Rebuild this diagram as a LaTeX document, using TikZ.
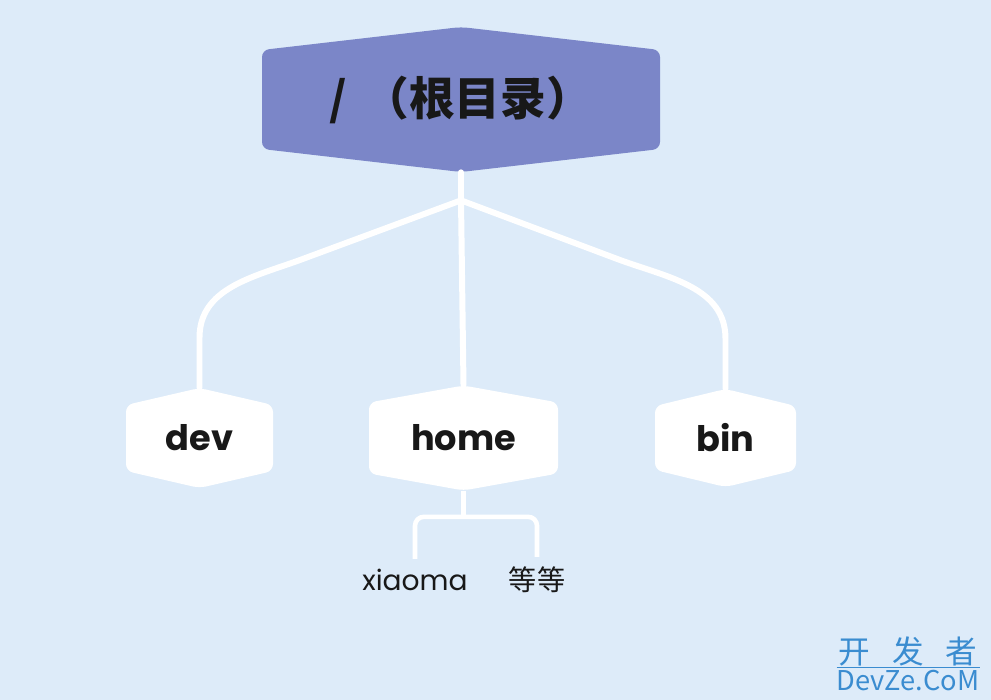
\documentclass[tikz,border=0pt]{standalone}
\usepackage{fontspec}
\setmainfont{Poppins}
\newfontfamily\cjk{Noto Sans CJK SC}
\usepackage{xcolor}
\usetikzlibrary{calc}
\definecolor{TreeBg}{RGB}{221,235,249}
\definecolor{TreeRoot}{RGB}{123,134,200}
\definecolor{TreeInk}{RGB}{24,24,24}
\definecolor{MarkBlue}{RGB}{58,140,208}

\begin{document}
\begin{tikzpicture}[
    hexbox/.style n args={4}{minimum width=#1, minimum height=#2, inner sep=0pt, path picture={\fill[#4, rounded corners=4pt] ([yshift=-#3]path picture bounding box.north west) -- (path picture bounding box.north) -- ([yshift=-#3]path picture bounding box.north east) -- ([yshift=#3]path picture bounding box.south east) -- (path picture bounding box.south) -- ([yshift=#3]path picture bounding box.south west) -- cycle;}},
    dir/.style={text=TreeInk, font=\fontsize{20}{24}\selectfont\bfseries},
    leaf/.style={text=TreeInk, font=\fontsize{16}{19}\selectfont},
    branch/.style={draw=white, line width=3.4pt, line cap=round},
    twig/.style={draw=white, line width=2.6pt, rounded corners=5pt}
  ]
    \fill[TreeBg] (0,0) rectangle (19.82,-14);
    \useasboundingbox (0,0) rectangle (19.82,-14);
    \node[hexbox={7.96cm}{2.9cm}{0.46cm}{TreeRoot}, text=TreeInk, font=\cjk\fontsize{26}{30}\selectfont\bfseries] (root) at (9.22,-1.99) {/\hspace{0.35em}（根目录）};
    \foreach \nm/\x/\w/\h in {dev/3.99/2.94/2.0, home/9.27/3.78/2.1, bin/14.51/2.82/1.96} {\node[hexbox={\w cm}{\h cm}{0.34cm}{white}, dir] (\nm) at (\x,-8.76) {\nm};}
    \node[leaf] (xiaoma) at (8.3,-11.6) {xiaoma};
    \node[leaf, font=\cjk\fontsize{16}{19}\selectfont] (etc) at (10.74,-11.6) {等等};
    \coordinate (fork) at ($(root.south)+(0,-0.56)$);
    \coordinate (split) at ($(home.south)+(0,-0.52)$);
    \draw[branch] (root.south) -- (fork) -- (home.north);
    \draw[branch] (fork) -- (6.0,-5.2) to[out=200,in=90] ($(dev.north)+(0,1.0)$) -- (dev.north);
    \draw[branch] (fork) -- (12.4,-5.2) to[out=-20,in=90] ($(bin.north)+(0,1.0)$) -- (bin.north);
    \draw[twig] (home.south) -- (split);
    \draw[twig] ($(xiaoma.north)+(0,0.08)$) |- (split) -| ($(etc.north)+(0,0.08)$);
    \node[text=MarkBlue, inner sep=0pt, font=\cjk\fontsize{18}{20}\selectfont] (mark) at (18.16,-13.02) {开\hspace{0.7em}发\hspace{0.7em}者};
    \node[text=MarkBlue, inner sep=0pt, font=\cjk\fontsize{15.5}{18}\selectfont] (site) at (18.16,-13.62) {DevZe.CoM};
    \draw[MarkBlue, line width=0.6pt] ($(site.north west)+(0,0.05)$) -- ($(site.north east)+(0,0.05)$);
\end{tikzpicture}
\end{document}
